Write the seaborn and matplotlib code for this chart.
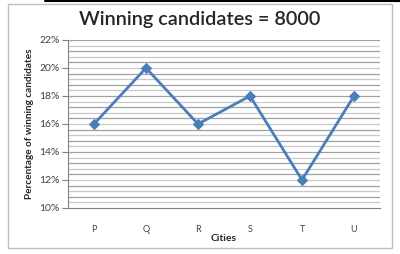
import matplotlib
matplotlib.use('Agg')
import matplotlib.pyplot as plt
import seaborn as sns
import numpy as np
import pandas as pd
from matplotlib.patches import Rectangle
from matplotlib.lines import Line2D

cities = ['P', 'Q', 'R', 'S', 'T', 'U']
percent = [16, 20, 16, 18, 12, 18]
y_ticks = [10, 12, 14, 16, 18, 20, 22]
y_labels = ['10%', '12%', '14%', '16%', '18%', '20%', '22%']

df = pd.DataFrame({'city': cities, 'pct': percent})

sns.set_style('white')
plt.rcParams['font.family'] = ['Lato', 'DejaVu Sans']

fig = plt.figure(figsize=(4, 2.54), dpi=100)
ax = fig.add_axes([68 / 400, 1 - 208 / 254, 312 / 400, 168 / 254])

# grey chart border and black top edge
fig.patches.append(Rectangle((8 / 400, 1 - 248 / 254), 384 / 400, 244 / 254,
                             transform=fig.transFigure, fill=False,
                             edgecolor='#bfbfbf', lw=1))
fig.lines.append(Line2D([45 / 400, 1], [0.997, 0.997], transform=fig.transFigure,
                        color='black', lw=1.5))

# gridlines every 0.4%
for i, g in enumerate(np.arange(10.4, 22.01, 0.4)):
    ax.axhline(g, color='#a0a0a0' if i % 2 else '#c8c8c8', lw=0.9, zorder=0)

sns.lineplot(data=df, x='city', y='pct', ax=ax, color='#4a7ebb', lw=2,
             marker='D', markersize=5, markeredgecolor='#4a7ebb', sort=False)

ax.set_xlim(-0.5, 5.5)
ax.set_ylim(10, 22)
ax.set_yticks(y_ticks)
ax.set_yticklabels(y_labels, fontsize=7.5, color='#404040')
ax.tick_params(axis='y', length=4, width=0.8, color='#808080', pad=2, direction='out', left=True)
ax.tick_params(axis='x', length=0, labelsize=6.5, labelcolor='#404040', pad=12)
for s in ['top', 'right']:
    ax.spines[s].set_visible(False)
ax.spines['left'].set_color('#808080')
ax.spines['bottom'].set_color('#808080')
ax.spines['left'].set_linewidth(0.8)
ax.spines['bottom'].set_linewidth(0.8)

ax.set_xlabel('Cities', fontsize=7.5, fontweight='bold', labelpad=0)
ax.set_ylabel('Percentage of winning candidates', fontsize=7.2, fontweight='bold', labelpad=4)
fig.text(0.5, 1 - 20 / 254, 'Winning candidates = 8000', ha='center', va='center',
         fontsize=14.3, fontweight='semibold')

fig.savefig('out.png', dpi=100)
